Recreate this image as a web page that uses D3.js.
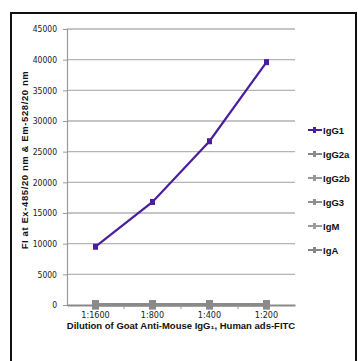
<!DOCTYPE html>
<html>
<head>
<meta charset="utf-8">
<script src="https://cdn.jsdelivr.net/npm/d3@7"></script>
<style>
  body { margin: 0; background: #fff; }
  svg { display: block; }
  .tick text { font-family: "Liberation Sans Narrow", "Arial Narrow", "DejaVu Sans Condensed", sans-serif; fill: #222; }
</style>
</head>
<body>
<script>
// Chart parameters
var svgWidth = 358;
var svgHeight = 361;

var margin = { top: 29, right: 63, bottom: 56, left: 67 };
var width = svgWidth - margin.left - margin.right;   // 228
var height = svgHeight - margin.top - margin.bottom; // 276

// Data
var dilutions = ["1:1600", "1:800", "1:400", "1:200"];
var seriesNames = ["IgG1", "IgG2a", "IgG2b", "IgG3", "IgM", "IgA"];
var igG1 = [9500, 16800, 26700, 39600];
var igG2a = [80, 80, 80, 80];
var igG2b = [60, 60, 60, 60];
var igG3 = [50, 50, 50, 50];
var igM = [40, 40, 40, 40];
var igA = [30, 30, 30, 30];
var yTicks = [0, 5000, 10000, 15000, 20000, 25000, 30000, 35000, 40000, 45000];

var seriesValues = [igG1, igG2a, igG2b, igG3, igM, igA];
var seriesColors = ["#4a1e9e", "#8a8a8a", "#979797", "#8f8f8f", "#9c9c9c", "#858585"];

var svg = d3.select("body")
            .append("svg")
            .attr("width", svgWidth)
            .attr("height", svgHeight);

// outer frame
svg.append("rect")
   .attr("x", 11).attr("y", 13)
   .attr("width", 345).attr("height", 352)
   .attr("fill", "none")
   .attr("stroke", "#111")
   .attr("stroke-width", 2);

var chartGroup = svg.append("g")
                    .attr("transform", `translate(${margin.left}, ${margin.top})`);

// Scales
var xBand = d3.scaleBand().domain(dilutions).range([0, width]);
var yScale = d3.scaleLinear().domain([0, 45000]).range([height, 0]);
var xPos = d => xBand(d) + xBand.bandwidth() / 2;

// Gridlines
chartGroup.append("g")
          .selectAll("line")
          .data(yTicks.filter(t => t > 0))
          .enter()
          .append("line")
          .attr("x1", 0)
          .attr("x2", width)
          .attr("y1", d => yScale(d))
          .attr("y2", d => yScale(d))
          .attr("stroke", d => (d === 15000 || d === 30000 || d === 45000) ? "#8c8c8c" : "#b4b4b4")
          .attr("stroke-width", 1.2);

// Left axis
var leftAxis = d3.axisLeft(yScale).tickValues(yTicks).tickSize(4).tickPadding(6).tickFormat(d3.format("d"));
var yAxisG = chartGroup.append("g").call(leftAxis);
yAxisG.select(".domain").attr("stroke", "#999").attr("stroke-width", 1.2);
yAxisG.selectAll(".tick line").attr("stroke", "#999");
yAxisG.selectAll(".tick text").attr("font-size", 8.5).attr("fill", "#333");

// Bottom axis
var bottomAxis = d3.axisBottom(xBand).tickSize(0).tickPadding(7);
var xAxisG = chartGroup.append("g")
                       .attr("transform", `translate(0, ${height})`)
                       .call(bottomAxis);
xAxisG.select(".domain").attr("stroke", "#8a8a8a").attr("stroke-width", 2);
xAxisG.selectAll(".tick text").attr("font-size", 9).attr("fill", "#222");

// category boundary ticks
chartGroup.append("g")
          .selectAll("line")
          .data(dilutions.slice(1))
          .enter()
          .append("line")
          .attr("x1", d => xBand(d))
          .attr("x2", d => xBand(d))
          .attr("y1", height)
          .attr("y2", height + 4)
          .attr("stroke", "#999");

var line = d3.line()
             .x((d, i) => xPos(dilutions[i]))
             .y(d => yScale(d));

// draw gray series first, IgG1 on top
var order = [5, 4, 3, 2, 1, 0];
order.forEach(function(s) {
    var vals = seriesValues[s];
    var color = seriesColors[s];
    chartGroup.append("path")
              .datum(vals)
              .attr("fill", "none")
              .attr("stroke", color)
              .attr("stroke-width", s === 0 ? 2.2 : 3)
              .attr("d", line);

    chartGroup.selectAll(".m" + s)
              .data(vals)
              .enter()
              .append("rect")
              .attr("class", "m" + s)
              .attr("x", (d, i) => xPos(dilutions[i]) - (s === 0 ? 2.5 : 3.5))
              .attr("y", d => yScale(d) - (s === 0 ? 3 : 4.5))
              .attr("width", s === 0 ? 5 : 7)
              .attr("height", s === 0 ? 6 : 9)
              .attr("fill", color);
});

// Legend
var legend = svg.append("g").attr("transform", "translate(308, 130)");
var legendItem = legend.selectAll("g")
                       .data(seriesNames)
                       .enter()
                       .append("g")
                       .attr("transform", (d, i) => `translate(0, ${i * 24})`);

legendItem.append("line")
          .attr("x1", 0).attr("x2", 14)
          .attr("y1", 0).attr("y2", 0)
          .attr("stroke", (d, i) => seriesColors[i])
          .attr("stroke-width", 2);

legendItem.append("rect")
          .attr("x", 5).attr("y", -3)
          .attr("width", 3).attr("height", 6)
          .attr("fill", (d, i) => seriesColors[i]);

legendItem.append("text")
          .attr("x", 15)
          .attr("y", 3.5)
          .attr("font-family", "'Liberation Sans Narrow', 'Arial Narrow', sans-serif")
          .attr("font-weight", "bold")
          .attr("font-size", 9.5)
          .attr("fill", "#111")
          .text(d => d);

// Axis titles
svg.append("text")
   .attr("transform", "translate(28, 160) rotate(-90)")
   .attr("text-anchor", "middle")
   .attr("font-family", "'Liberation Sans', Arial, sans-serif")
   .attr("font-weight", "bold")
   .attr("font-size", 9.5)
   .attr("letter-spacing", 0.6)
   .attr("fill", "#111")
   .text("FI at Ex-485/20 nm & Em-528/20 nm");

svg.append("text")
   .attr("x", 181)
   .attr("y", 329)
   .attr("text-anchor", "middle")
   .attr("font-family", "'Liberation Sans Narrow', 'Arial Narrow', sans-serif")
   .attr("font-weight", "bold")
   .attr("font-size", 9.5)
   .attr("fill", "#111")
   .text("Dilution of Goat Anti-Mouse IgG\u2081, Human ads-FITC");
</script>
</body>
</html>
